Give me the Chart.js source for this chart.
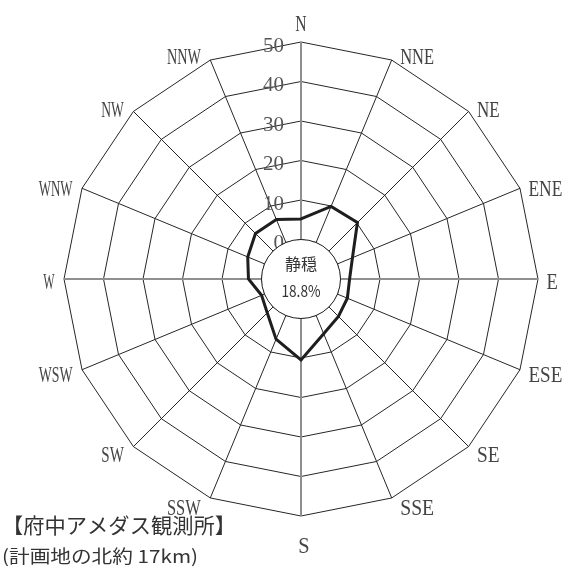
<!DOCTYPE html>
<html>
<head>
<meta charset="utf-8">
<script src="https://cdn.jsdelivr.net/npm/chart.js@4/dist/chart.umd.min.js"></script>
<style>
  html, body { margin: 0; padding: 0; background: #ffffff; }
  #wrap { position: relative; width: 565px; height: 575px; }
  canvas { display: block; }
</style>
</head>
<body>
<div id="wrap"><canvas id="c" width="565" height="575"></canvas></div>
<script>
// ---- data ----
const directions = ['N','NNE','NE','ENE','E','ESE','SE','SSE','S','SSW','SW','WSW','W','WNW','NW','NNW'];
const frequency = [5.2, 9.9, 10.2, 4.1, 2.3, 2.7, 3.4, 5.0, 10.5, 6.5, 2.1, 0.8, 3.3, 4.6, 6.3, 6.3];
const tickValues = [0, 10, 20, 30, 40, 50];
const calmLabel = '静穏';
const calmValue = '18.8%';
const stationTitle = '【府中アメダス観測所】';
const stationNote = '(計画地の北約 17km)';

function drawCondensed(ctx, text, x, y, align, targetW) {
  const w = ctx.measureText(text).width;
  const sx = targetW / w;
  ctx.save();
  ctx.translate(x, y);
  ctx.scale(sx, 1);
  ctx.textAlign = align;
  ctx.fillText(text, 0, 0);
  ctx.restore();
}

const roseDecor = {
  id: 'roseDecor',
  beforeDatasetsDraw(chart) {
    const s = chart.scales.r;
    const ctx = chart.ctx;
    const cx = s.xCenter, cy = s.yCenter;
    ctx.save();
    // tick labels
    ctx.font = '21px "Liberation Serif", serif';
    ctx.fillStyle = '#555555';
    ctx.textBaseline = 'alphabetic';
    ctx.textAlign = 'right';
    tickValues.forEach(v => {
      const r = s.getDistanceFromCenterForValue(v);
      ctx.fillText(String(v), cx - 17, cy - r + 9.5);
    });
    // calm circle
    const r0 = s.getDistanceFromCenterForValue(0);
    ctx.beginPath();
    ctx.arc(cx, cy, r0, 0, Math.PI * 2);
    ctx.fillStyle = '#ffffff';
    ctx.fill();
    ctx.lineWidth = 1;
    ctx.strokeStyle = '#222222';
    ctx.stroke();
    ctx.fillStyle = '#333333';
    ctx.textBaseline = 'middle';
    ctx.font = '16px "Noto Sans CJK JP", sans-serif';
    ctx.textAlign = 'center';
    ctx.fillText(calmLabel, cx, cy - 15);
    ctx.font = '16px "Noto Sans CJK JP", sans-serif';
    drawCondensed(ctx, calmValue, cx, cy + 12, 'center', 39);
    ctx.restore();
  },
  afterDraw(chart) {
    const s = chart.scales.r;
    const ctx = chart.ctx;
    const cx = s.xCenter, cy = s.yCenter;
    ctx.save();
    ctx.font = '23px "Liberation Serif", serif';
    ctx.fillStyle = '#444444';
    ctx.textBaseline = 'alphabetic';
    const R = s.drawingArea;
    directions.forEach((lab, i) => {
      const p = s.getPointPosition(i, R);
      const th = i * Math.PI * 2 / directions.length;
      const tw = 11.3 * lab.length;
      if (i === 0) {
        drawCondensed(ctx, lab, p.x, p.y - 19 + 7.6, 'center', tw);
      } else if (i === 8) {
        drawCondensed(ctx, lab, p.x + 3, p.y + 29 + 7.6, 'center', tw);
      } else {
        const dy = 2.5 - 7 * Math.cos(th);
        if (i < 8) {
          drawCondensed(ctx, lab, p.x + 8.5, p.y + dy + 7.6, 'left', tw);
        } else {
          drawCondensed(ctx, lab, p.x - 9.5, p.y + dy + 7.6, 'right', tw);
        }
      }
    });
    // station text
    ctx.fillStyle = '#333333';
    ctx.textAlign = 'left';
    ctx.textBaseline = 'middle';
    ctx.font = '21px "Noto Sans CJK JP", sans-serif';
    drawCondensed(ctx, stationTitle, 2, 525, 'left', 234);
    ctx.font = '18px "Noto Sans CJK JP", sans-serif';
    drawCondensed(ctx, stationNote, 2, 556, 'left', 196);
    ctx.restore();
  }
};

new Chart(document.getElementById('c'), {
  type: 'radar',
  data: {
    labels: directions,
    datasets: [{
      data: frequency,
      borderColor: '#1e1e1e',
      borderWidth: 3,
      borderJoinStyle: 'miter',
      fill: false,
      pointRadius: 0,
      pointHoverRadius: 0,
      tension: 0
    }]
  },
  options: {
    responsive: false,
    devicePixelRatio: 1,
    animation: false,
    layout: { padding: { left: 64, right: 27, top: 42, bottom: 59 } },
    plugins: { legend: { display: false }, tooltip: { enabled: false } },
    scales: {
      r: {
        min: -10,
        max: 50,
        startAngle: 0,
        ticks: { stepSize: 10, display: false },
        pointLabels: { display: false },
        grid: {
          color: c => (c.tick && c.tick.value < 0) ? 'rgba(0,0,0,0)' : '#262626',
          lineWidth: 1
        },
        angleLines: {
          color: c => (c.index % 4 === 0) ? '#8f8f8f' : '#262626',
          lineWidth: c => (c.index % 4 === 0) ? 2 : 1
        }
      }
    }
  },
  plugins: [roseDecor]
});
</script>
</body>
</html>
